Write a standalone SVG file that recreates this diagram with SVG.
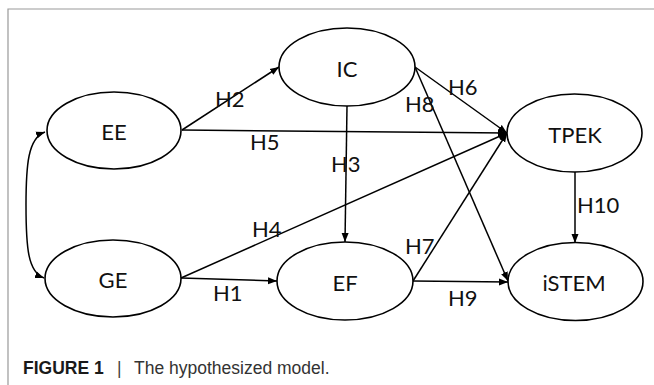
<svg xmlns="http://www.w3.org/2000/svg" width="654" height="385" viewBox="0 0 654 385">
<style>
.node ellipse{fill:#fff;stroke:#000;stroke-width:1.6}
.node text{font-family:Lato,"Open Sans",sans-serif;font-size:22px;fill:#111;text-anchor:middle}
.edges path,.edges line{stroke:#000;stroke-width:1.5;fill:none}
.lbl{font-family:Lato,"Open Sans",sans-serif;font-size:22px;fill:#111}
.frame{stroke:#999;stroke-width:1.2;fill:none}
.cap{font-family:"Liberation Sans",Arial,sans-serif;font-size:17.5px}
</style>
<defs>
<marker id="arr" markerWidth="9" markerHeight="8" refX="9" refY="4" orient="auto-start-reverse" markerUnits="userSpaceOnUse">
<path d="M0,0.5 L9,4 L0,7.5 Z" fill="#000"/>
</marker>
</defs>
<rect width="654" height="385" fill="#fff"/>
<path class="frame" d="M8,385 L8,9 L654,9"/>
<g class="edges">
<path d="M45,132 C28,138 26,165 26,205 C26,248 28,272 44,278" marker-start="url(#arr)" marker-end="url(#arr)"/>
<line x1="182" y1="130" x2="279" y2="67" marker-end="url(#arr)"/>
<line x1="182" y1="130" x2="507" y2="133" marker-end="url(#arr)"/>
<line x1="415" y1="67" x2="507" y2="133" marker-end="url(#arr)"/>
<line x1="415" y1="67" x2="508" y2="281" marker-end="url(#arr)"/>
<line x1="347" y1="106" x2="345" y2="242" marker-end="url(#arr)"/>
<line x1="181" y1="278" x2="507" y2="133" marker-end="url(#arr)"/>
<line x1="181" y1="278" x2="277" y2="281" marker-end="url(#arr)"/>
<line x1="413" y1="281" x2="507" y2="133" marker-end="url(#arr)"/>
<line x1="413" y1="281" x2="508" y2="282" marker-end="url(#arr)"/>
<line x1="575" y1="172" x2="575" y2="243" marker-end="url(#arr)"/>
</g>
<g id="EE" class="node"><ellipse cx="114" cy="130.5" rx="67" ry="38.5"/><text x="114" y="140">EE</text></g>
<g id="IC" class="node"><ellipse cx="347" cy="67" rx="68" ry="39"/><text x="347" y="77">IC</text></g>
<g id="TPEK" class="node"><ellipse cx="574.5" cy="133" rx="67.5" ry="39"/><text x="575" y="143">TPEK</text></g>
<g id="GE" class="node"><ellipse cx="113" cy="278.5" rx="68" ry="38.5"/><text x="113" y="288">GE</text></g>
<g id="EF" class="node"><ellipse cx="345" cy="281" rx="68" ry="39"/><text x="345" y="291">EF</text></g>
<g id="iSTEM" class="node"><ellipse cx="575.5" cy="281.5" rx="67.5" ry="39"/><text x="574" y="291">iSTEM</text></g>
<g class="labels">
<text class="lbl" x="215" y="107">H2</text>
<text class="lbl" x="250" y="150">H5</text>
<text class="lbl" x="448" y="95">H6</text>
<text class="lbl" x="405" y="112">H8</text>
<text class="lbl" x="331" y="172">H3</text>
<text class="lbl" x="252" y="237">H4</text>
<text class="lbl" x="213" y="301">H1</text>
<text class="lbl" x="405" y="254">H7</text>
<text class="lbl" x="448" y="306">H9</text>
<text class="lbl" x="577" y="213">H10</text>
</g>
<g class="cap">
<text x="23" y="374" font-weight="bold" fill="#1a1a1a">FIGURE 1</text>
<text x="117" y="374" fill="#444">|</text>
<text x="134" y="374" fill="#333">The hypothesized model.</text>
</g>
</svg>
